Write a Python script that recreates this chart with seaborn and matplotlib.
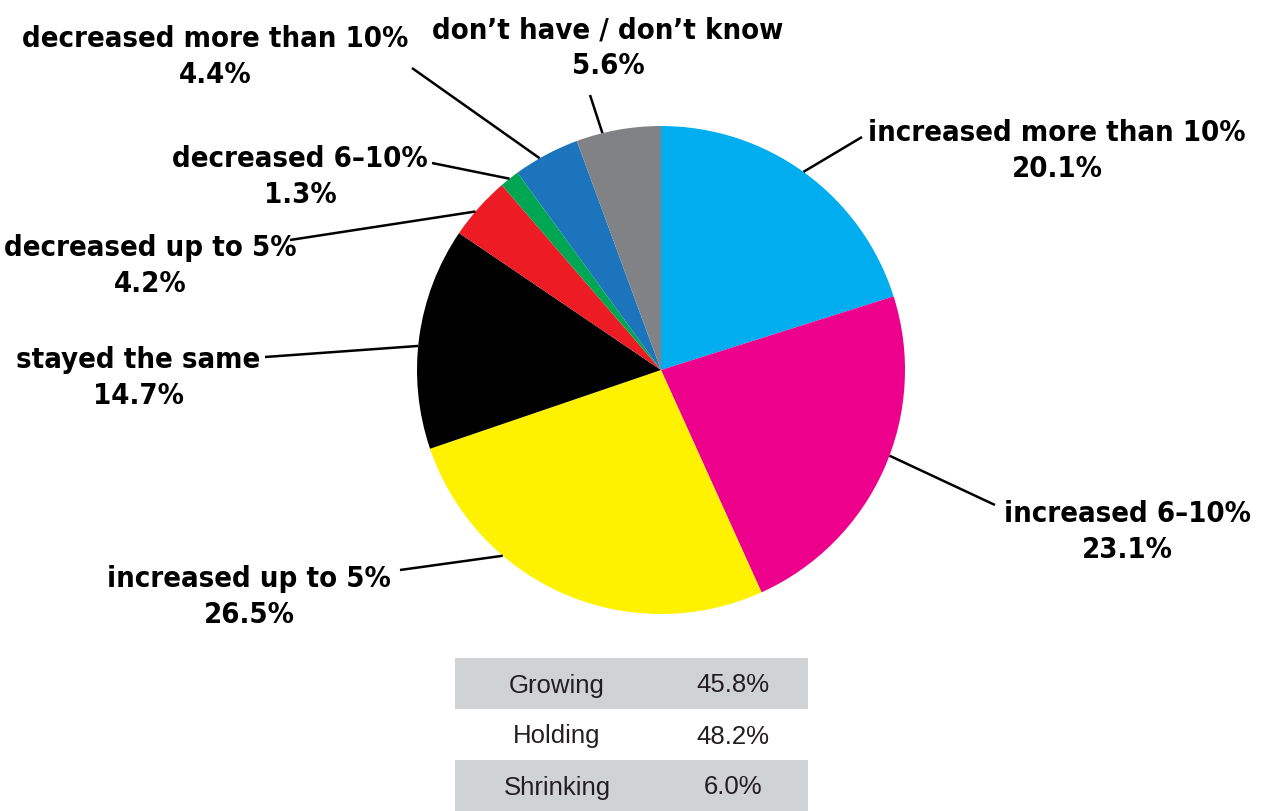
import numpy as np
import matplotlib
matplotlib.use("Agg")
import matplotlib.pyplot as plt
from matplotlib.patches import Rectangle
import seaborn as sns

# Share of respondents by change category
categories = [
    "increased more than 10%",
    "increased 6\u201310%",
    "increased up to 5%",
    "stayed the same",
    "decreased up to 5%",
    "decreased 6\u201310%",
    "decreased more than 10%",
    "don\u2019t have / don\u2019t know",
]
shares = [20.1, 23.1, 26.5, 14.7, 4.2, 1.3, 4.4, 5.6]
colors = ["#00AEEF", "#EC008C", "#FFF200", "#000000",
          "#ED1C24", "#00A651", "#1C75BC", "#808285"]

# Summary table
summary_labels = ["Growing", "Holding", "Shrinking"]
summary_values = [45.8, 48.2, 6.0]

sns.set_theme(style="white")
plt.rcParams["font.family"] = ["DejaVu Sans"]

W, H = 1264, 811
fig = plt.figure(figsize=(W / 100, H / 100), dpi=100)
ax = fig.add_axes([0, 0, 1, 1])

cx, cy, R = 661, H - 370, 244
palette = sns.color_palette(colors)
wedges, _ = ax.pie(shares, colors=palette, startangle=90, counterclock=False,
                   center=(cx, cy), radius=R, frame=True,
                   wedgeprops=dict(linewidth=0))
ax.set_xlim(0, W)
ax.set_ylim(0, H)
ax.set_aspect("equal")
ax.axis("off")

# label layout: text centre (px from top-left), leader start, angle shift on the rim
label_pos = [(1057, 151), (1127, 532), (249, 597), (138, 378),
             (150, 266), (300, 177), (215, 57), (608, 48)]
leader_start = [(862, 137), (995, 505), (400, 570), (265, 357),
                (290, 240), (432, 163), (412, 68), (590, 95)]
angle_shift = [0.5, 3.5, -17.0, 2.0, 1.2, 0.0, 1.7, 3.8]

for w, cat, val, (tx, ty), (lx, ly), dth in zip(
        wedges, categories, shares, label_pos, leader_start, angle_shift):
    mid = np.deg2rad((w.theta1 + w.theta2) / 2 + dth)
    ex, ey = cx + R * np.cos(mid), cy + R * np.sin(mid)
    ax.plot([lx, ex], [H - ly, ey], color="black", lw=1.8,
            solid_capstyle="butt", zorder=3)
    ax.text(tx, H - ty, f"{cat}\n{val:.1f}%", ha="center", va="center",
            fontsize=21, fontweight="bold", fontstretch="condensed",
            linespacing=1.32, color="#000000")

# summary table below the pie
row_top, row_h = 658, 51
x0, x1 = 455, 808
tfont = ["Liberation Sans", "DejaVu Sans"]
for i, (lab, v) in enumerate(zip(summary_labels, summary_values)):
    top = row_top + i * row_h
    if i % 2 == 0:
        ax.add_patch(Rectangle((x0, H - top - row_h), x1 - x0, row_h,
                               facecolor="#D1D2D4", edgecolor="none", zorder=1))
    yc = H - top - row_h / 2 - 2
    ax.text(557, yc, lab, ha="center", va="center", fontsize=18.5,
            family=tfont, fontweight="normal", color="#231F20")
    ax.text(733, yc, f"{v:.1f}%", ha="center", va="center", fontsize=18.5,
            family=tfont, fontweight="normal", color="#231F20")

fig.savefig("out.png", dpi=100, facecolor="white")
